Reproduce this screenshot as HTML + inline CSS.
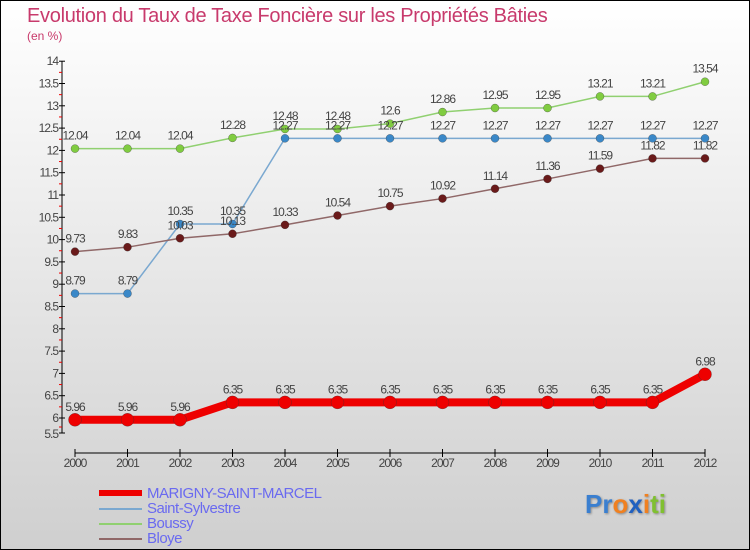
<!DOCTYPE html>
<html><head><meta charset="utf-8"><style>
body{margin:0}
#wrap{position:relative;width:748px;height:548px;border:1px solid #000;background:linear-gradient(#ffffff,#cfcfcf);font-family:"Liberation Sans",sans-serif;overflow:hidden}
.t{position:absolute;white-space:nowrap}
</style></head><body>
<div id="wrap">
<div class="t" style="left:26px;top:4px;font-size:20px;color:#c83a6c;letter-spacing:-0.3px">Evolution du Taux de Taxe Foncière sur les Propriétés Bâties</div>
<div class="t" style="left:26px;top:28px;font-size:12px;color:#c8386a">(en %)</div>
<svg id="plot" width="748" height="548" style="position:absolute;left:0;top:0"></svg>
<div>
<div class="t" style="left:98px;top:489px;width:43px;height:6px;background:#e00"></div>
<div class="t" style="left:146px;top:484px;font-size:15px;color:#6a6af0;letter-spacing:-0.5px">MARIGNY-SAINT-MARCEL</div>
<div class="t" style="left:98px;top:507px;width:43px;height:2px;background:#7aa8d0"></div>
<div class="t" style="left:146px;top:499px;font-size:15px;color:#6a6af0;letter-spacing:-0.5px">Saint-Sylvestre</div>
<div class="t" style="left:98px;top:522px;width:43px;height:2px;background:#90d070"></div>
<div class="t" style="left:146px;top:514px;font-size:15px;color:#6a6af0;letter-spacing:-0.5px">Boussy</div>
<div class="t" style="left:98px;top:537px;width:43px;height:2px;background:#906868"></div>
<div class="t" style="left:146px;top:529px;font-size:15px;color:#6a6af0;letter-spacing:-0.5px">Bloye</div>
</div>
<div class="t" style="left:584px;top:488px;font-size:26px;font-weight:bold;text-shadow:1px 1px 2px #888"><span style="color:#3a7fd0">Pr</span><span style="color:#f08020">o</span><span style="color:#2060c0">x</span><span style="color:#f08020">i</span><span style="color:#80c030">ti</span></div>
</div>
<script>
const years=[2000,2001,2002,2003,2004,2005,2006,2007,2008,2009,2010,2011,2012];
const marigny=[5.96,5.96,5.96,6.35,6.35,6.35,6.35,6.35,6.35,6.35,6.35,6.35,6.98];
const saintSylvestre=[8.79,8.79,10.35,10.35,12.27,12.27,12.27,12.27,12.27,12.27,12.27,12.27,12.27];
const boussy=[12.04,12.04,12.04,12.28,12.48,12.48,12.6,12.86,12.95,12.95,13.21,13.21,13.54];
const bloye=[9.73,9.83,10.03,10.13,10.33,10.54,10.75,10.92,11.14,11.36,11.59,11.82,11.82];
const yTicks=[6,6.5,7,7.5,8,8.5,9,9.5,10,10.5,11,11.5,12,12.5,13,13.5,14];
const NS="http://www.w3.org/2000/svg";
const svg=document.getElementById('plot');
function X(i){return 74+i*52.5;}
function Y(v){return 417-(v-6)*44.6;}
function el(tag,a,p){const e=document.createElementNS(NS,tag);for(const k in a)e.setAttribute(k,a[k]);(p||svg).appendChild(e);return e;}
const ax=el('line',{x1:61,y1:Y(14),x2:61,y2:432,stroke:'#000','stroke-width':1});


const xa=el('line',{x1:X(0),y1:452,x2:X(12),y2:452,stroke:'#000','stroke-width':1});


for(let v=6;v<=14.001;v+=0.25){const ty=Y(v);if(Math.abs(v*2-Math.round(v*2))>0.01){el('line',{x1:58,y1:ty,x2:61,y2:ty,stroke:'#e00'});}}
el('line',{x1:58,y1:426,x2:61,y2:426,stroke:'#e00'});
yTicks.forEach(v=>{const ty=Y(v);el('line',{x1:58,y1:ty,x2:64,y2:ty,stroke:'#000'});
const t=el('text',{x:57,y:ty+4,'text-anchor':'end','font-size':12,fill:'#444','letter-spacing':'-1','font-family':'Liberation Sans'});t.textContent=String(v);

});
el('line',{x1:58,y1:432,x2:64,y2:432,stroke:'#000'});
const t55=el('text',{x:57,y:437,'text-anchor':'end','font-size':12,fill:'#444','letter-spacing':'-1','font-family':'Liberation Sans'});t55.textContent='5.5';


years.forEach((yr,i)=>{el('line',{x1:X(i),y1:448,x2:X(i),y2:456,stroke:'#000'});
const t=el('text',{x:X(i),y:466,'text-anchor':'middle','font-size':12,fill:'#444','letter-spacing':'-1','font-family':'Liberation Sans'});t.textContent=yr;

});
function series(arr,color,w,r,fill,name){
const g=el('g',{});


el('polyline',{points:arr.map((v,i)=>X(i)+','+Y(v)).join(' '),fill:'none',stroke:color,'stroke-width':w},g);
arr.forEach((v,i)=>{const c=el('circle',{cx:X(i),cy:Y(v),r:r,fill:fill,stroke:'#333','stroke-width':0.3},g);


const t=el('text',{x:X(i),y:Y(v)-9,'text-anchor':'middle','font-size':12,fill:'#444','letter-spacing':'-1','font-family':'Liberation Sans'},g);t.textContent=String(v);

});}
series(boussy,'#90d070',1.5,4,'#80cc40','boussy');
series(saintSylvestre,'#7aa8d0',1.5,4,'#3a88c8','saint-sylvestre');
series(bloye,'#906868',1.5,4,'#6a1a1a','bloye');
series(marigny,'#ee0000',8,6.5,'#ee0000','marigny');
</script>
</body></html>
